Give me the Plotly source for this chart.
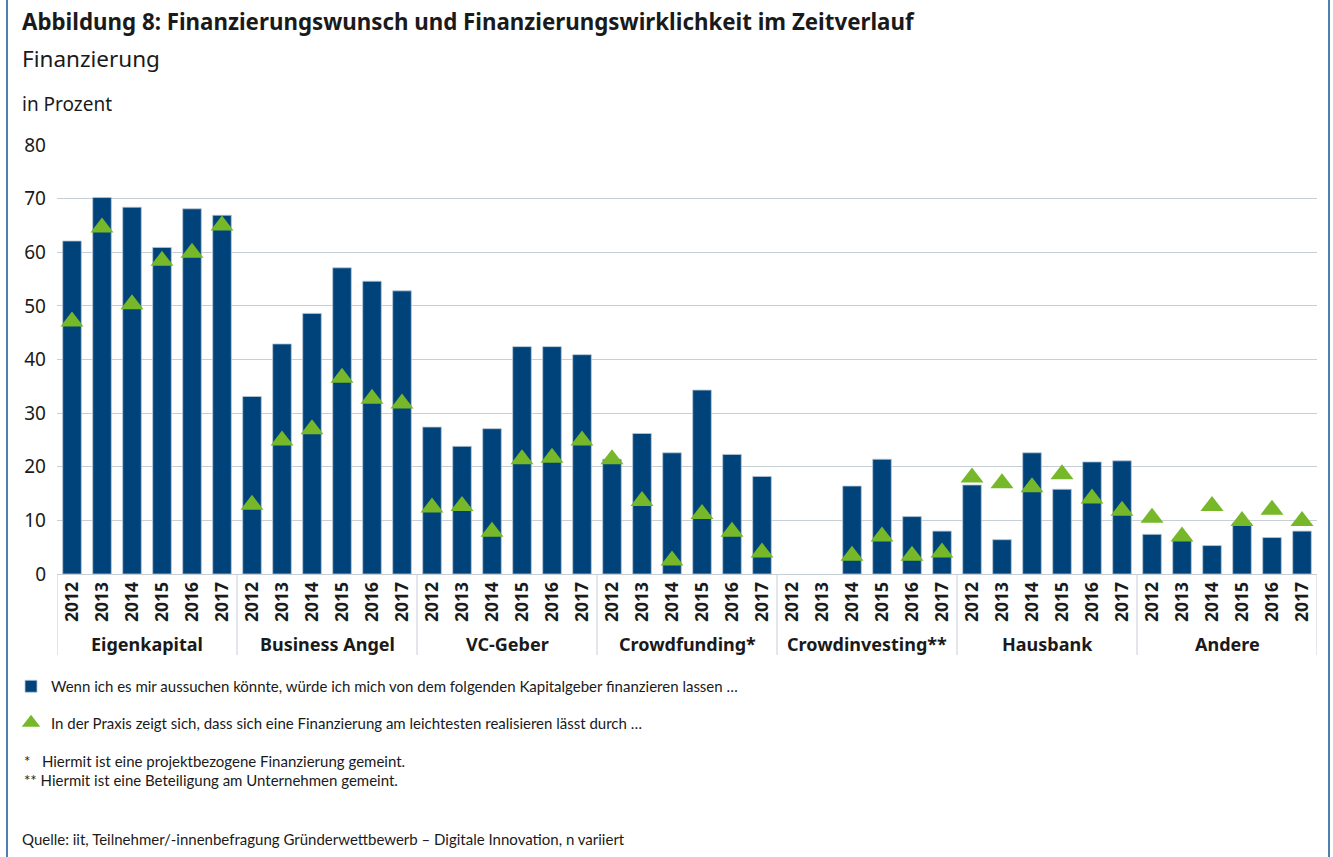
import plotly.graph_objects as go

# ---------------- data ----------------
groups = ["Eigenkapital", "Business Angel", "VC-Geber", "Crowdfunding*",
          "Crowdinvesting**", "Hausbank", "Andere"]
years = ["2012", "2013", "2014", "2015", "2016", "2017"]

# "Wenn ich es mir aussuchen könnte ..." (bars)
wunsch_eigenkapital = [62.1, 70.2, 68.4, 60.9, 68.1, 66.9]
wunsch_business_angel = [33.1, 42.9, 48.6, 57.1, 54.6, 52.8]
wunsch_vc_geber = [27.4, 23.8, 27.1, 42.4, 42.4, 40.9]
wunsch_crowdfunding = [21.4, 26.2, 22.6, 34.3, 22.3, 18.2]
wunsch_crowdinvesting = [None, None, 16.4, 21.4, 10.7, 8.0]
wunsch_hausbank = [16.6, 6.4, 22.6, 15.8, 20.9, 21.1]
wunsch_andere = [7.4, 6.5, 5.3, 9.5, 6.8, 8.0]

# "In der Praxis zeigt sich ..." (triangles)
praxis_eigenkapital = [47.1, 64.6, 50.3, 58.4, 59.9, 65.0]
praxis_business_angel = [12.9, 24.9, 27.0, 36.6, 32.7, 31.8]
praxis_vc_geber = [12.4, 12.7, 7.9, 21.4, 21.7, 24.9]
praxis_crowdfunding = [21.4, 13.6, 2.5, 11.2, 7.9, 4.0]
praxis_crowdinvesting = [None, None, 3.4, 7.0, 3.4, 4.0]
praxis_hausbank = [18.0, 16.9, 16.2, 18.6, 14.1, 11.8]
praxis_andere = [10.5, 7.0, 12.7, 9.9, 12.0, 9.9]

y_ticks = [0, 10, 20, 30, 40, 50, 60, 70, 80]

wunsch_all = (wunsch_eigenkapital + wunsch_business_angel + wunsch_vc_geber +
              wunsch_crowdfunding + wunsch_crowdinvesting + wunsch_hausbank +
              wunsch_andere)
praxis_all = (praxis_eigenkapital + praxis_business_angel + praxis_vc_geber +
              praxis_crowdfunding + praxis_crowdinvesting + praxis_hausbank +
              praxis_andere)
year_labels = years * len(groups)
x_pos = list(range(len(year_labels)))

# ---------------- style ----------------
BLUE = "#00437A"
GREEN = "#76B82A"
GRID = "#C6CED6"
FRAME = "#4E7FB0"
TXT = "#1a1a1a"
FONT = "Noto Sans"
SMALL = "Lato"

L, R, T, B = 57, 16, 145, 283
W, H = 1333, 857
PW, PH = W - L - R, H - T - B


def px_x(px):
    return (px - L) / PW


def px_y(py):
    return (H - B - py) / PH


fig = go.Figure()
fig.add_trace(go.Bar(
    x=x_pos, y=wunsch_all,
    marker=dict(color=BLUE, line=dict(color="#b7c6d4", width=0.8)),
    name="Wenn ich es mir aussuchen könnte, würde ich mich von dem folgenden Kapitalgeber finanzieren lassen …",
    legendgroup="a",
    hoverinfo="y",
))
fig.add_trace(go.Scatter(
    x=x_pos, y=praxis_all, mode="markers",
    marker=dict(symbol="triangle-up", size=20, color=GREEN),
    name="In der Praxis zeigt sich, dass sich eine Finanzierung am leichtesten realisieren lässt durch …",
    legendgroup="b",
    hoverinfo="y",
))

annotations = []
# titles
annotations.append(dict(text="<b>Abbildung 8: Finanzierungswunsch und Finanzierungswirklichkeit im Zeitverlauf</b>",
                        x=px_x(20), y=px_y(21), xref="paper", yref="paper",
                        xanchor="left", yanchor="middle", showarrow=False,
                        font=dict(family=FONT, size=22.3, color=TXT)))
annotations.append(dict(text="Finanzierung", x=px_x(20), y=px_y(58), xref="paper", yref="paper",
                        xanchor="left", yanchor="middle", showarrow=False,
                        font=dict(family=FONT, size=22.5, color=TXT)))
annotations.append(dict(text="in Prozent", x=px_x(20), y=px_y(104), xref="paper", yref="paper",
                        xanchor="left", yanchor="middle", showarrow=False,
                        font=dict(family=FONT, size=19, color=TXT)))
# group labels
n = len(years)
for gi, g in enumerate(groups):
    annotations.append(dict(text="<b>%s</b>" % g, x=gi * n + (n - 1) / 2, y=px_y(644),
                            xref="x", yref="paper", xanchor="center", yanchor="middle",
                            showarrow=False, font=dict(family=FONT, size=18, color=TXT)))
# footnotes
annotations.append(dict(text="*&nbsp;&nbsp;&nbsp;Hiermit ist eine projektbezogene Finanzierung gemeint.",
                        x=px_x(22), y=px_y(761), xref="paper", yref="paper",
                        xanchor="left", yanchor="middle", showarrow=False,
                        font=dict(family=SMALL, size=15, color=TXT)))
annotations.append(dict(text="** Hiermit ist eine Beteiligung am Unternehmen gemeint.",
                        x=px_x(22), y=px_y(780), xref="paper", yref="paper",
                        xanchor="left", yanchor="middle", showarrow=False,
                        font=dict(family=SMALL, size=15, color=TXT)))
annotations.append(dict(text="Quelle: iit, Teilnehmer/-innenbefragung Gründerwettbewerb – Digitale Innovation, n variiert",
                        x=px_x(20), y=px_y(839), xref="paper", yref="paper",
                        xanchor="left", yanchor="middle", showarrow=False,
                        font=dict(family=SMALL, size=15, color=TXT)))

shapes = []
for gi in range(len(groups) + 1):
    shapes.append(dict(type="line", xref="x", yref="paper",
                       x0=gi * n - 0.5, x1=gi * n - 0.5, y0=0, y1=px_y(655),
                       line=dict(color=GRID, width=1)))
# frame
for fx in (7, 1329):
    shapes.append(dict(type="line", xref="paper", yref="paper",
                       x0=px_x(fx), x1=px_x(fx), y0=px_y(0), y1=px_y(H),
                       line=dict(color=FRAME, width=2)))

fig.update_layout(
    width=W, height=H,
    margin=dict(l=L, r=R, t=T, b=B, autoexpand=False),
    paper_bgcolor="white", plot_bgcolor="white",
    bargap=0.38,
    font=dict(family=FONT, color=TXT),
    showlegend=True,
    legend=dict(x=px_x(11), y=px_y(670), xanchor="left", yanchor="top",
                orientation="v", tracegroupgap=14,
                font=dict(family=SMALL, size=15, color=TXT),
                bgcolor="rgba(0,0,0,0)", itemclick=False),
    xaxis=dict(range=[-0.5, len(x_pos) - 0.5], tickmode="array", tickvals=x_pos,
               ticktext=["<b>%s</b>" % y for y in year_labels], tickangle=-90,
               tickfont=dict(family=FONT, size=17.5, color=TXT),
               showgrid=False, zeroline=False, showline=True, linecolor=GRID,
               linewidth=1, ticks=""),
    yaxis=dict(range=[0, 80], tickmode="array", tickvals=y_ticks,
               tickfont=dict(family=FONT, size=19, color=TXT),
               showgrid=True, gridcolor=GRID, gridwidth=1.4, zeroline=False,
               showline=False, ticks="", ticklabelstandoff=10),
    annotations=annotations,
    shapes=shapes,
)

fig.write_html("out.html", config={"displayModeBar": False},
               post_script="document.body.style.margin='0';document.body.style.overflow='hidden';")
